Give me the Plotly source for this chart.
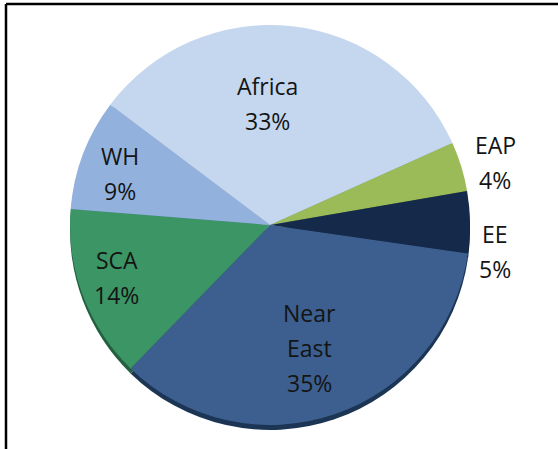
import math
import plotly.graph_objects as go

# ---- data ----
regions = ["Africa", "EAP", "EE", "Near East", "SCA", "WH"]
shares = [33, 4, 5, 35, 14, 9]
label_lines = [["Africa"], ["EAP"], ["EE"], ["Near", "East"], ["SCA"], ["WH"]]

# ---- styles / layout ----
colors = ["#c5d7ee", "#9bbb59", "#15294a", "#3c5f8f", "#3b9565", "#92b2dd"]
rim_colors = ["#8ea6c4", "#6f8a3c", "#0c1a30", "#1d3555", "#23603f", "#5f7fa8"]
label_radius = [0.61, 1.17, 1.135, 0.645, 0.81, 0.795]   # fraction of pie radius
label_angle_nudge = [-7.8, 1.4, 7.4, 0.8, 1.7, -1.8]     # degrees off the bisector
W, H = 558, 449
cx, cy, R = 270, 225, 200          # pie centre / radius in pixels
rotation = -53
line_gap = 35
font = dict(family="Open Sans", size=23, color="#141414")

dom_x = [(cx - R) / W, (cx + R) / W]
dom_y = [1 - (cy + R) / H, 1 - (cy - R) / H]
shift = 5 / H

fig = go.Figure()
# darker copy slightly lower: gives the rim at the bottom edge
fig.add_trace(go.Pie(
    labels=regions, values=shares, sort=False, direction="clockwise",
    rotation=rotation, marker=dict(colors=rim_colors, line=dict(width=0)),
    textinfo="none", hoverinfo="skip", showlegend=False,
    domain=dict(x=dom_x, y=[dom_y[0] - shift, dom_y[1] - shift]),
))
fig.add_trace(go.Pie(
    labels=regions, values=shares, sort=False, direction="clockwise",
    rotation=rotation, marker=dict(colors=colors, line=dict(width=0)),
    textinfo="none", showlegend=False,
    domain=dict(x=dom_x, y=dom_y),
))

# labels placed around each slice's bisector, computed from the data
total = sum(shares)
annotations = []
start = rotation
for val, lines, rf, nudge in zip(shares, label_lines, label_radius, label_angle_nudge):
    span = 360 * val / total
    mid = math.radians(start + span / 2 + nudge)
    start += span
    px = cx + rf * R * math.sin(mid)
    py = cy - rf * R * math.cos(mid)
    all_lines = lines + [f"{round(100 * val / total)}%"]
    n = len(all_lines)
    for i, t in enumerate(all_lines):
        ly = py + (i - (n - 1) / 2) * line_gap
        annotations.append(dict(
            x=px / W, y=1 - ly / H, xref="paper", yref="paper",
            text=t, showarrow=False, font=font,
            xanchor="center", yanchor="middle",
        ))

fig.update_layout(
    width=W, height=H,
    margin=dict(l=0, r=0, t=0, b=0),
    paper_bgcolor="white",
    plot_bgcolor="white",
    annotations=annotations,
    shapes=[
        dict(type="line", xref="paper", yref="paper", x0=6 / W, x1=1.01, y0=1 - 4 / H, y1=1 - 4 / H,
             line=dict(color="black", width=2.5)),
        dict(type="line", xref="paper", yref="paper", x0=6 / W, x1=6 / W, y0=1 - 4 / H, y1=-0.01,
             line=dict(color="black", width=2.5)),
    ],
)

fig.write_html("out.html", config={"displayModeBar": False},
               post_script="document.body.style.margin='0';document.body.style.overflow='hidden';")
